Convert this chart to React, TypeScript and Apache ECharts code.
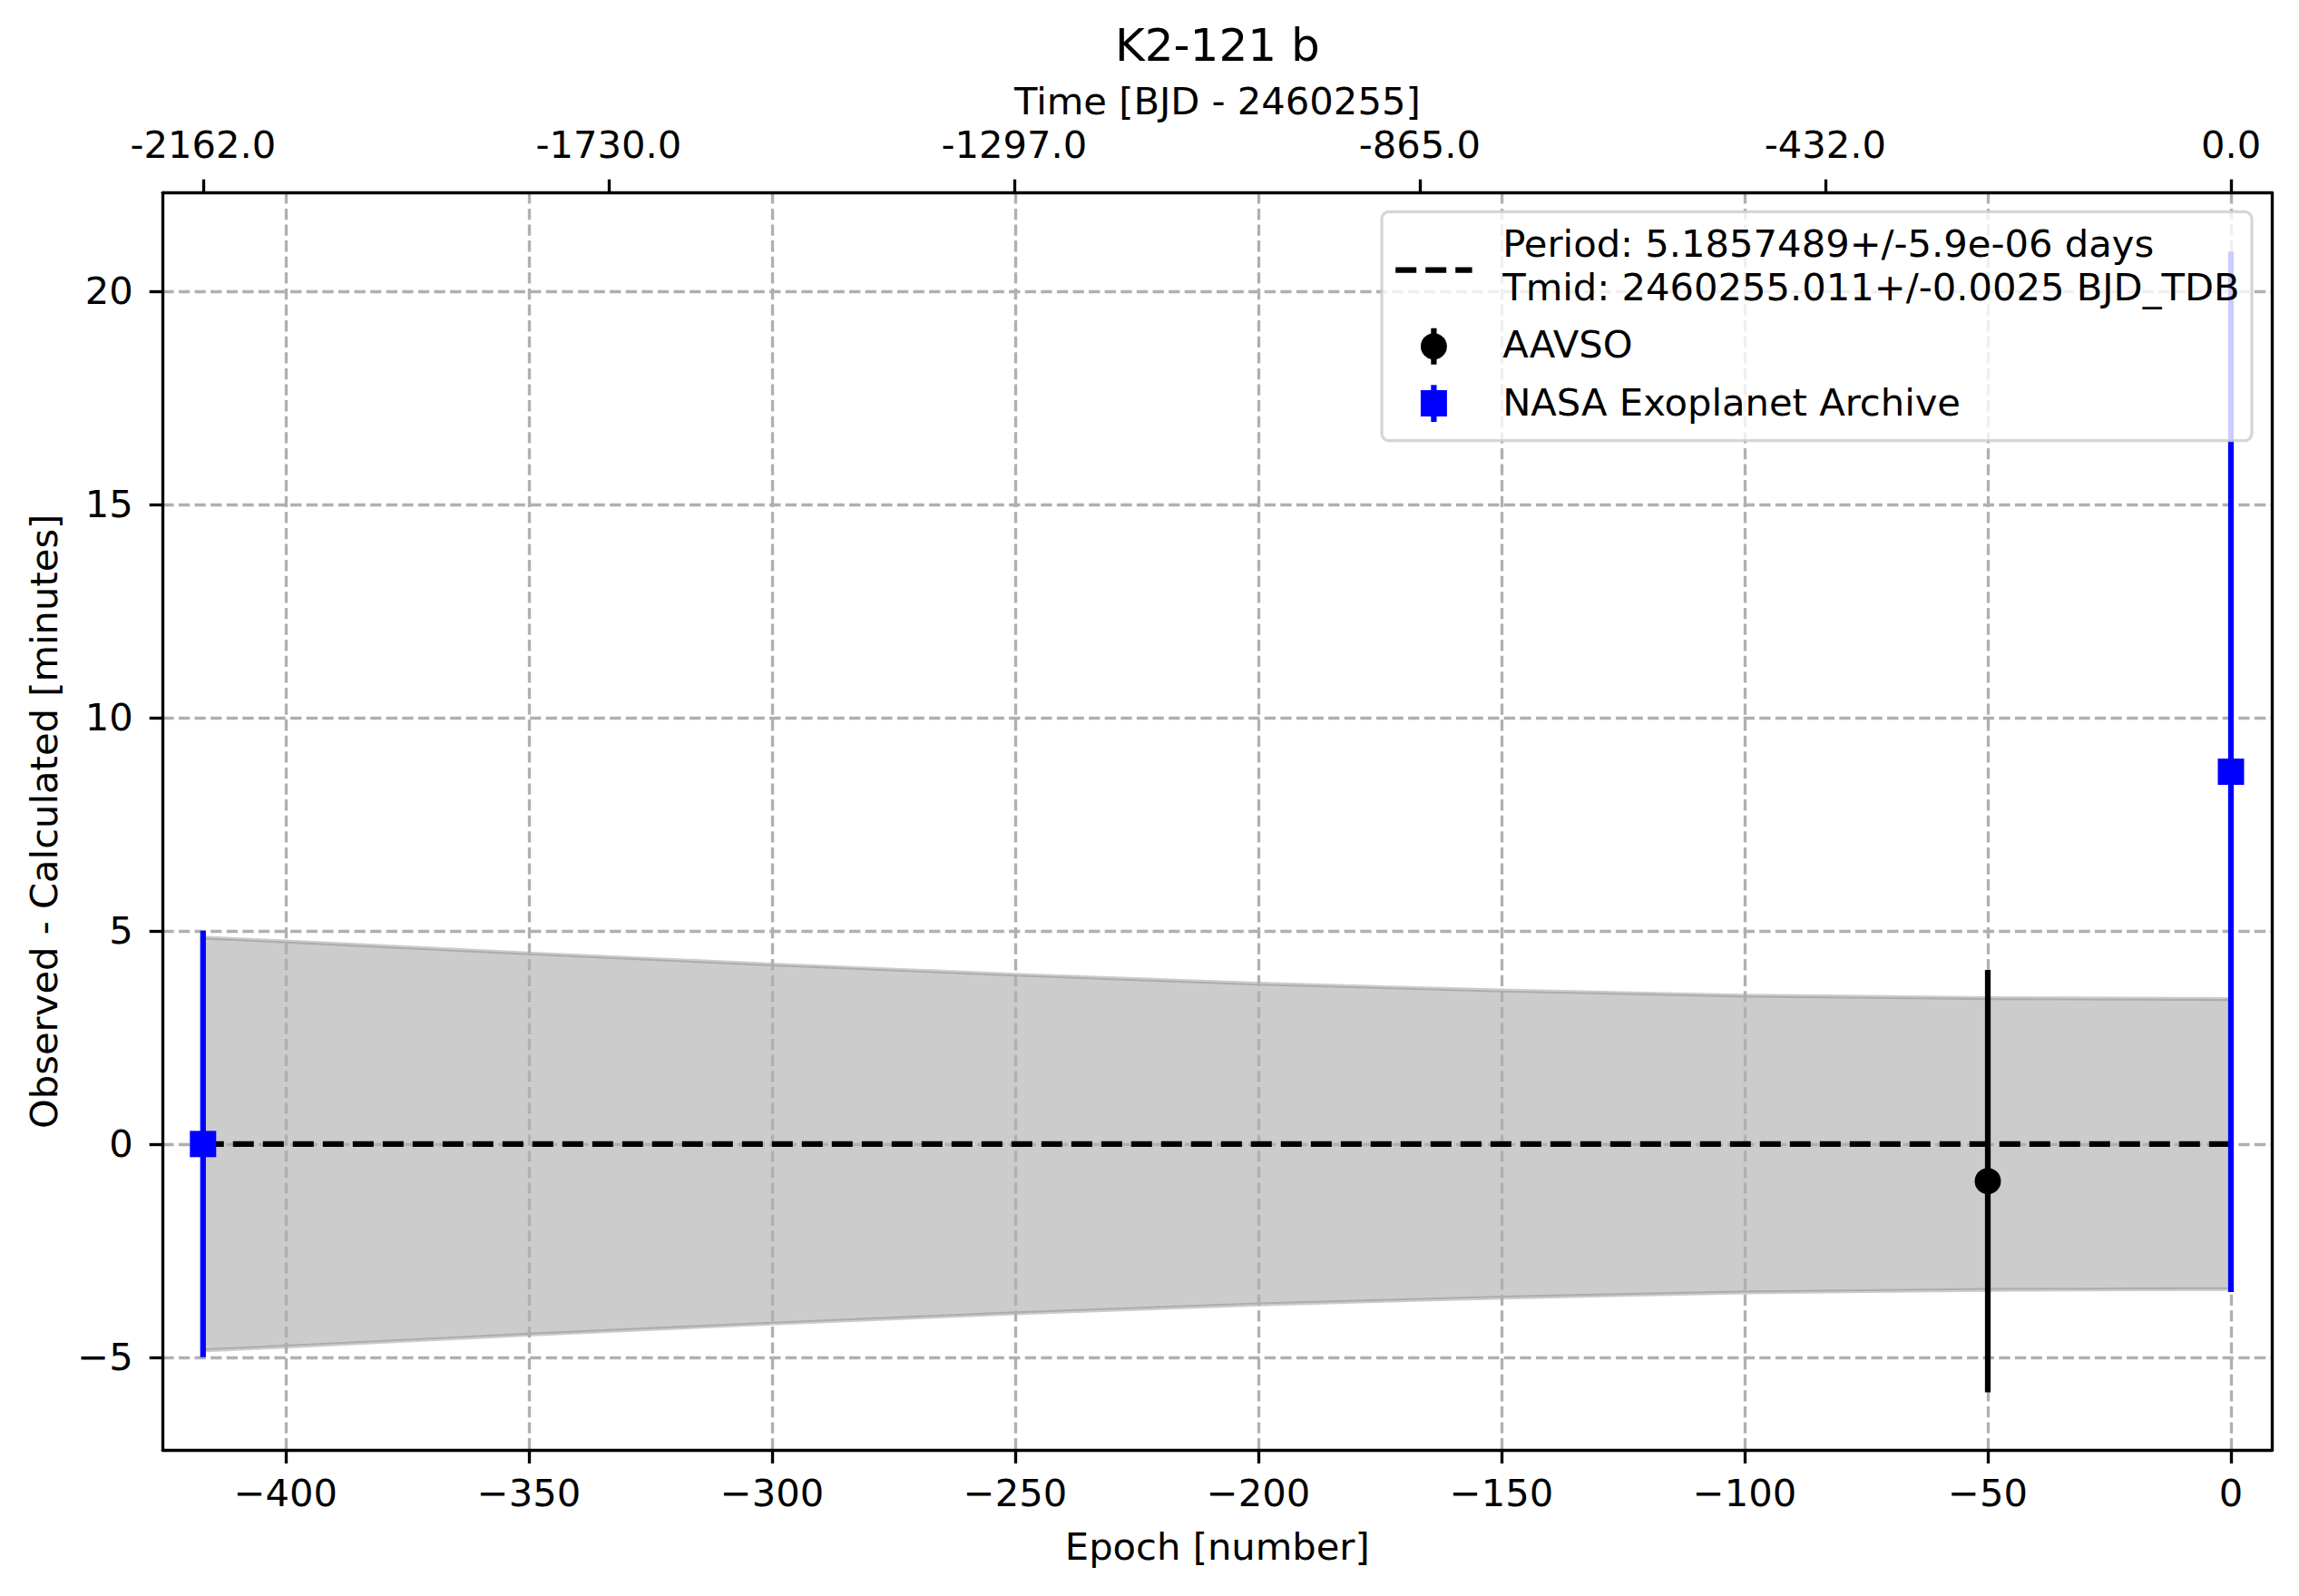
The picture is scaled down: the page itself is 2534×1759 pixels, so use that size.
import React, { useEffect, useRef } from 'react';
import * as echarts from 'echarts';

// ---- data ----
const epochTicks = [-400, -350, -300, -250, -200, -150, -100, -50, 0];
const yTicks = [-5, 0, 5, 10, 15, 20];
const topTickEpochs = [-417, -333.6, -250.2, -166.8, -83.4, 0];
const topTickLabels = ['-2162.0', '-1730.0', '-1297.0', '-865.0', '-432.0', '0.0'];

const aavsoEpochs = [-50];
const aavsoOC = [-0.87];
const aavsoErr = [4.95];

const nasaEpochs = [-417, 0];
const nasaOC = [0.0, 8.73];
const nasaErr = [5.0, 12.2];

const fitEpochs = [-417, 0];
const fitOC = [0, 0];

const bandEpochs = [-417, -400, -350, -300, -250, -200, -150, -100, -50, 0];
const bandHalfWidth = [4.84, 4.75, 4.47, 4.21, 3.97, 3.76, 3.6, 3.48, 3.42, 3.4];

const xMin = -425.3;
const xMax = 8.45;
const yMin = -7.18;
const yMax = 22.31;

const legendPeriod = 'Period: 5.1857489+/-5.9e-06 days';
const legendTmid = 'Tmid: 2460255.011+/-0.0025 BJD_TDB';
const legendAAVSO = 'AAVSO';
const legendNASA = 'NASA Exoplanet Archive';
const titleText = 'K2-121 b';
const topAxisName = 'Time [BJD - 2460255]';
const bottomAxisName = 'Epoch [number]';
const yAxisName = 'Observed - Calculated [minutes]';

// ---- styling ----
const FONT = 'DejaVu Sans';
const FS = 41.67;
const AX_LW = 3.33;
const TICK_LEN = 14.6;
const GRID_LEFT = 179.3;
const GRID_RIGHT_X = 2504.3;
const GRID_TOP = 212.3;
const GRID_BOTTOM_Y = 1598.3;
const W = 2534;
const H = 1759;

const minus = (v: number) => (v < 0 ? '\u2212' + Math.abs(v) : String(v));

function errorbarSeries(name: string, xs: number[], ys: number[], es: number[], color: string, marker: 'circle' | 'square') {
  return {
    type: 'custom',
    name,
    xAxisIndex: 0,
    yAxisIndex: 0,
    z: 4,
    data: xs.map((x, i) => [x, ys[i], es[i]]),
    encode: { x: 0, y: 1 },
    renderItem: (params: any, api: any) => {
      const x = api.value(0);
      const y = api.value(1);
      const e = api.value(2);
      const top = api.coord([x, y + e]);
      const bot = api.coord([x, y - e]);
      const c = api.coord([x, y]);
      const size = 29;
      const mk =
        marker === 'circle'
          ? { type: 'circle', shape: { cx: c[0], cy: c[1], r: size / 2 }, style: { fill: color } }
          : { type: 'rect', shape: { x: c[0] - size / 2, y: c[1] - size / 2, width: size, height: size }, style: { fill: color } };
      return {
        type: 'group',
        children: [
          { type: 'line', shape: { x1: top[0], y1: top[1], x2: bot[0], y2: bot[1] }, style: { stroke: color, lineWidth: 6.25 } },
          mk,
        ],
      };
    },
  };
}

export default function App() {
  const ref = useRef<HTMLDivElement>(null);

  useEffect(() => {
    const chart = echarts.init(ref.current!, null, { renderer: 'svg' });

    const baseText = { fontFamily: FONT, fontSize: FS, fill: '#000' };
    const lx = 1580.4;
    const tx = 1656.2;

    const option: any = {
      animation: false,
      backgroundColor: '#ffffff',
      grid: {
        left: GRID_LEFT,
        right: W - GRID_RIGHT_X,
        top: GRID_TOP,
        bottom: H - GRID_BOTTOM_Y,
        containLabel: false,
        outerBoundsMode: 'none',
      },
      xAxis: [
        {
          type: 'value',
          position: 'bottom',
          min: xMin,
          max: xMax,
          axisLine: { show: true, onZero: false, lineStyle: { color: '#000', width: AX_LW } },
          axisTick: { show: true, inside: false, length: TICK_LEN, customValues: epochTicks, lineStyle: { color: '#000', width: AX_LW } },
          axisLabel: {
            show: true,
            customValues: epochTicks,
            margin: 26,
            color: '#000',
            fontFamily: FONT,
            fontSize: FS,
            lineHeight: 42,
            formatter: (v: number) => minus(v),
          },
          splitLine: { show: true, lineStyle: { color: '#b0b0b0', width: AX_LW, type: [12.3, 5.3] } },
        },
        {
          type: 'value',
          position: 'top',
          min: xMin,
          max: xMax,
          axisLine: { show: true, onZero: false, lineStyle: { color: '#000', width: AX_LW } },
          axisTick: { show: true, inside: false, length: TICK_LEN, customValues: topTickEpochs, lineStyle: { color: '#000', width: AX_LW } },
          axisLabel: {
            show: true,
            customValues: topTickEpochs,
            margin: 31.5,
            color: '#000',
            fontFamily: FONT,
            fontSize: FS,
            lineHeight: 42,
            formatter: (v: number) => {
              const i = topTickEpochs.findIndex((t) => Math.abs(t - v) < 1e-6);
              return i >= 0 ? topTickLabels[i] : '';
            },
          },
          splitLine: { show: false },
        },
      ],
      yAxis: [
        {
          type: 'value',
          position: 'left',
          min: yMin,
          max: yMax,
          axisLine: { show: true, onZero: false, lineStyle: { color: '#000', width: AX_LW } },
          axisTick: { show: true, inside: false, length: TICK_LEN, customValues: yTicks, lineStyle: { color: '#000', width: AX_LW } },
          axisLabel: {
            show: true,
            customValues: yTicks,
            margin: 32.6,
            color: '#000',
            fontFamily: FONT,
            fontSize: FS,
            formatter: (v: number) => minus(v),
          },
          splitLine: { show: true, lineStyle: { color: '#b0b0b0', width: AX_LW, type: [12.3, 5.3] } },
        },
        {
          type: 'value',
          position: 'right',
          min: yMin,
          max: yMax,
          axisLine: { show: true, onZero: false, lineStyle: { color: '#000', width: AX_LW } },
          axisTick: { show: false },
          axisLabel: { show: false },
          splitLine: { show: false },
        },
      ],
      series: [
        {
          type: 'custom',
          name: 'band',
          xAxisIndex: 0,
          yAxisIndex: 0,
          z: -1,
          data: bandEpochs.map((e, i) => [e, bandHalfWidth[i]]),
          encode: { x: 0, y: 1 },
          renderItem: (params: any, api: any) => {
            if (params.dataIndex !== 0) return null;
            const upper = bandEpochs.map((e, i) => api.coord([e, bandHalfWidth[i]]));
            const lower = bandEpochs.map((e, i) => api.coord([e, -bandHalfWidth[i]])).reverse();
            return {
              type: 'polygon',
              shape: { points: upper.concat(lower) },
              style: { fill: 'rgba(128,128,128,0.4)', stroke: 'rgba(128,128,128,0.4)', lineWidth: 4.17 },
            };
          },
        },
        {
          type: 'line',
          name: 'fit',
          xAxisIndex: 0,
          yAxisIndex: 0,
          z: 3,
          symbol: 'none',
          data: fitEpochs.map((e, i) => [e, fitOC[i]]),
          lineStyle: { color: '#000', width: 6.25, type: [23, 10] },
        },
        errorbarSeries('AAVSO', aavsoEpochs, aavsoOC, aavsoErr, '#000000', 'circle'),
        errorbarSeries('NASA Exoplanet Archive', nasaEpochs, nasaOC, nasaErr, '#0000ff', 'square'),
      ],
      graphic: [
        // title and axis names
        { type: 'text', x: 1341.8, y: 50.1, z: 50, style: { ...baseText, fontSize: 50, text: titleText, align: 'center', verticalAlign: 'middle' } },
        { type: 'text', x: 1341.8, y: 111.5, z: 50, style: { ...baseText, text: topAxisName, align: 'center', verticalAlign: 'middle' } },
        { type: 'text', x: 1341.8, y: 1704.8, z: 50, style: { ...baseText, text: bottomAxisName, align: 'center', verticalAlign: 'middle' } },
        {
          type: 'text',
          x: 48.6,
          y: 905.3,
          rotation: Math.PI / 2,
          z: 50,
          style: { ...baseText, text: yAxisName, align: 'center', verticalAlign: 'middle' },
        },
        // legend
        {
          type: 'rect',
          z: 100,
          shape: { x: 1523, y: 233.3, width: 959, height: 252.4, r: 8 },
          style: { fill: 'rgba(255,255,255,0.8)', stroke: 'rgba(204,204,204,0.8)', lineWidth: 3.33 },
        },
        {
          type: 'line',
          z: 101,
          shape: { x1: 1538.2, y1: 297.7, x2: 1622.6, y2: 297.7 },
          style: { stroke: '#000', lineWidth: 6.25, lineDash: [23, 10] },
        },
        { type: 'text', x: tx, y: 268.1, z: 101, style: { ...baseText, text: legendPeriod, align: 'left', verticalAlign: 'middle' } },
        { type: 'text', x: tx, y: 316.8, z: 101, style: { ...baseText, text: legendTmid, align: 'left', verticalAlign: 'middle' } },
        {
          type: 'line',
          z: 101,
          shape: { x1: lx, y1: 361.7, x2: lx, y2: 401.7 },
          style: { stroke: '#000', lineWidth: 6.25 },
        },
        { type: 'circle', z: 102, shape: { cx: lx, cy: 381.7, r: 14.5 }, style: { fill: '#000' } },
        { type: 'text', x: tx, y: 379.8, z: 101, style: { ...baseText, text: legendAAVSO, align: 'left', verticalAlign: 'middle' } },
        {
          type: 'line',
          z: 101,
          shape: { x1: lx, y1: 424.3, x2: lx, y2: 465 },
          style: { stroke: '#0000ff', lineWidth: 6.25 },
        },
        { type: 'rect', z: 102, shape: { x: lx - 14.5, y: 444.5 - 14.5, width: 29, height: 29 }, style: { fill: '#0000ff' } },
        { type: 'text', x: tx, y: 443.8, z: 101, style: { ...baseText, text: legendNASA, align: 'left', verticalAlign: 'middle' } },
      ],
    };

    chart.setOption(option);
    return () => chart.dispose();
  }, []);

  return (
    <div
      ref={ref}
      style={{ position: 'fixed', left: 0, top: 0, width: W, height: H, background: '#ffffff' }}
    />
  );
}
